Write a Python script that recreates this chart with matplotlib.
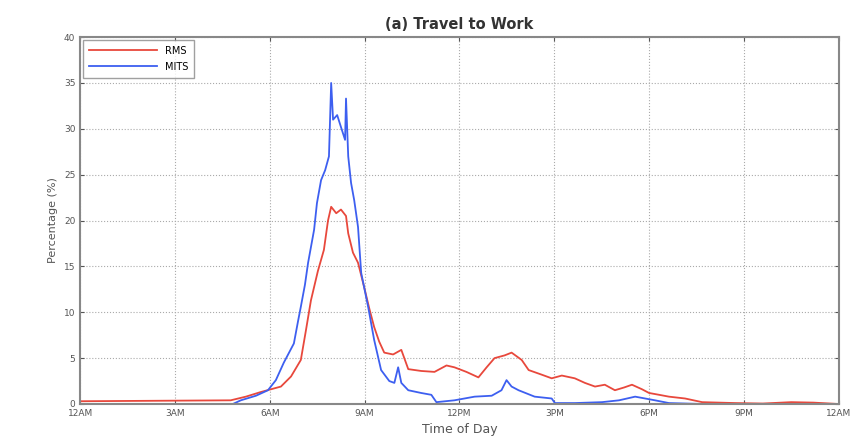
import matplotlib
matplotlib.use("Agg")
import matplotlib.pyplot as plt

# RMS (red) - hour of day vs percentage
rms_hours = [0.0, 4.76, 5.24, 5.71, 6.03, 6.35, 6.67, 6.98, 7.14, 7.30, 7.52, 7.71,
             7.84, 7.94, 8.10, 8.25, 8.41, 8.48, 8.63, 8.79, 8.98, 9.14, 9.30, 9.46,
             9.62, 9.90, 10.16, 10.38, 10.79, 11.21, 11.59, 11.84, 12.22, 12.60, 12.86,
             13.11, 13.43, 13.65, 13.97, 14.19, 14.60, 14.92, 15.24, 15.65, 15.97,
             16.29, 16.60, 16.92, 17.21, 17.46, 17.78, 18.00, 18.32, 18.63, 19.14,
             19.68, 20.73, 21.60, 22.50, 23.20, 24.0]
rms_pct = [0.3, 0.4, 0.8, 1.3, 1.6, 1.9, 3.0, 4.8, 8.0, 11.3, 14.5, 16.8,
           20.0, 21.5, 20.8, 21.2, 20.5, 18.6, 16.5, 15.4, 12.8, 10.5, 8.4, 6.8,
           5.6, 5.4, 5.9, 3.8, 3.6, 3.5, 4.2, 4.0, 3.5, 2.9, 4.0,
           5.0, 5.3, 5.6, 4.8, 3.7, 3.2, 2.8, 3.1, 2.8, 2.3,
           1.9, 2.1, 1.5, 1.8, 2.1, 1.6, 1.2, 1.0, 0.8, 0.6,
           0.2, 0.1, 0.05, 0.2, 0.15, 0.0]

# MITS (blue)
mits_hours = [0.0, 4.83, 5.08, 5.56, 5.94, 6.19, 6.44, 6.76, 6.89, 6.98, 7.11, 7.21,
              7.40, 7.49, 7.62, 7.75, 7.87, 7.94, 8.00, 8.13, 8.25, 8.38, 8.41, 8.48,
              8.57, 8.67, 8.79, 8.89, 9.11, 9.30, 9.52, 9.78, 9.94, 10.06, 10.16,
              10.38, 10.79, 11.11, 11.27, 11.84, 12.48, 13.02, 13.33, 13.49, 13.65,
              13.87, 14.38, 14.92, 15.02, 15.65, 16.51, 17.05, 17.56, 18.19, 18.63,
              19.68, 24.0]
mits_pct = [0.0, 0.0, 0.4, 0.9, 1.5, 2.6, 4.5, 6.6, 9.0, 10.6, 13.0, 15.4,
            19.0, 21.9, 24.4, 25.5, 27.0, 35.0, 31.0, 31.5, 30.2, 28.8, 33.3, 27.0,
            24.1, 22.2, 19.3, 14.3, 10.6, 7.0, 3.7, 2.5, 2.3, 4.0, 2.3,
            1.5, 1.2, 1.0, 0.2, 0.4, 0.8, 0.9, 1.5, 2.6, 1.9,
            1.5, 0.8, 0.6, 0.1, 0.1, 0.2, 0.4, 0.8, 0.4, 0.1,
            0.0, 0.0]

tick_hours = [0, 3, 6, 9, 12, 15, 18, 21, 24]
tick_labels = ['12AM', '3AM', '6AM', '9AM', '12PM', '3PM', '6PM', '9PM', '12AM']

fig = plt.figure(figsize=(8.54, 4.42), dpi=100)
ax = fig.add_axes([0.094, 0.086, 0.888, 0.830])

ax.plot(rms_hours, rms_pct, color='#e8483c', lw=1.3, label='RMS')
ax.plot(mits_hours, mits_pct, color='#3d5ff0', lw=1.3, label='MITS')

ax.set_xlim(0, 24)
ax.set_ylim(0, 40)
ax.set_xticks(tick_hours)
ax.set_xticklabels(tick_labels)
ax.set_yticks(range(0, 41, 5))
ax.tick_params(direction='in', top=True, right=True, labelsize=6.5,
               colors='#555555', length=3)
for s in ax.spines.values():
    s.set_color('#888888')
    s.set_linewidth(1.5)
ax.grid(True, linestyle=':', color='#aaaaaa', linewidth=0.8)

ax.set_title('(a) Travel to Work', fontsize=10.5, color='#333333', pad=6,
             fontweight='semibold')
ax.set_xlabel('Time of Day', fontsize=9, color='#555555', labelpad=4)
ax.set_ylabel('Percentage (%)', fontsize=8, color='#555555', labelpad=4)

leg = ax.legend(loc='upper left', fontsize=7, frameon=True, fancybox=False,
                borderaxespad=0.3, handlelength=7, labelspacing=0.6,
                borderpad=0.6)
leg.get_frame().set_edgecolor('#888888')
leg.get_frame().set_linewidth(1.0)

fig.savefig('out.png', dpi=100)
